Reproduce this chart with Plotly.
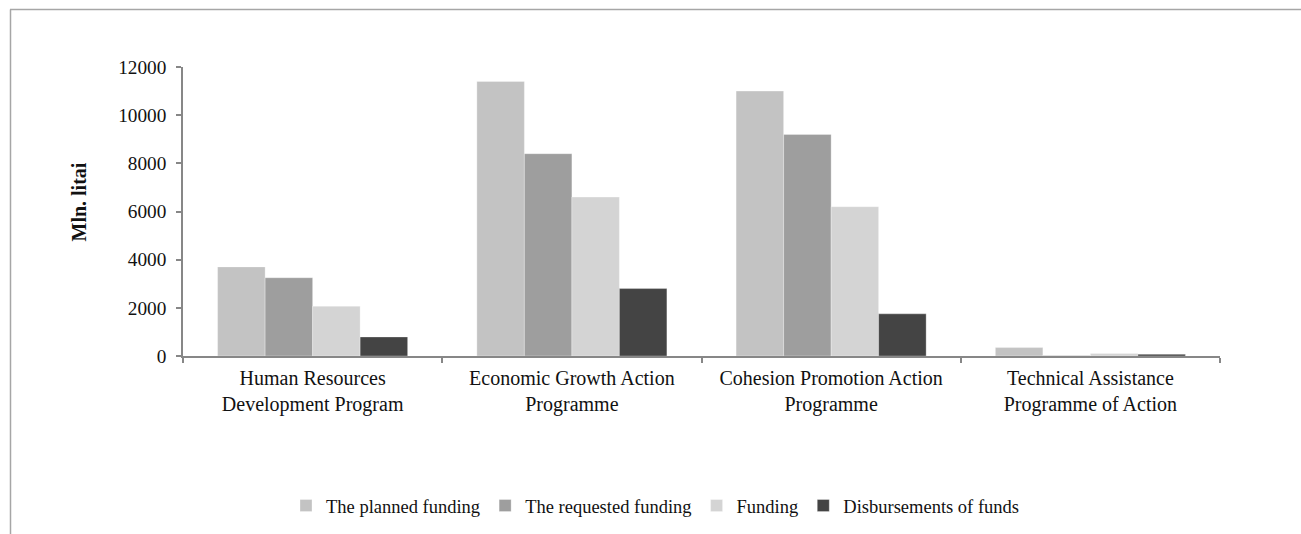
import plotly.graph_objects as go

categories = [
    "Human Resources<br>Development Program",
    "Economic Growth Action<br>Programme",
    "Cohesion Promotion Action<br>Programme",
    "Technical Assistance<br>Programme of Action",
]
series_names = ["The planned funding", "The requested funding", "Funding", "Disbursements of funds"]
planned = [3700, 11400, 11000, 350]
requested = [3250, 8400, 9200, 20]
funding = [2070, 6600, 6200, 100]
disbursements = [790, 2800, 1750, 70]
colors = ["#c3c3c3", "#9e9e9e", "#d4d4d4", "#444444"]
y_ticks = [0, 2000, 4000, 6000, 8000, 10000, 12000]
y_title = "Mln. litai"

FONT = "Liberation Serif, Times New Roman, serif"

fig = go.Figure()
for name, vals, col in zip(series_names, [planned, requested, funding, disbursements], colors):
    fig.add_trace(go.Bar(
        x=categories, y=vals, name=name,
        marker=dict(color=col, line=dict(color="rgba(255,255,255,0.6)", width=0.5)),
    ))

L, R, T, B = 183, 81, 67, 178
W, H = 1301, 534
pw, ph = W - L - R, H - T - B

def px_x(p):
    return (p - L) / pw

def px_y(p):
    return (H - B - p) / ph

fig.update_layout(
    width=W, height=H,
    margin=dict(l=L, r=R, t=T, b=B, autoexpand=False),
    barmode="group", bargap=0.267, bargroupgap=0,
    plot_bgcolor="white", paper_bgcolor="white",
    font=dict(family=FONT, color="#111111", size=19),
    showlegend=True,
    legend=dict(
        orientation="h", x=px_x(286), xanchor="left", y=px_y(487), yanchor="top",
        font=dict(family=FONT, size=18.5, color="#111111"),
        itemwidth=30, traceorder="normal",
        bgcolor="rgba(0,0,0,0)",
    ),
    xaxis=dict(
        type="category", showline=True, linecolor="#878787", linewidth=1.5,
        ticks="outside", ticklen=5, tickcolor="#878787", tickwidth=1.5,
        tickson="boundaries", showgrid=False, zeroline=False,
        ticklabelstandoff=3,
        tickfont=dict(family=FONT, size=20, color="#111111"),
    ),
    yaxis=dict(
        range=[0, 12000], tickvals=y_ticks, ticktext=[str(v) for v in y_ticks],
        showline=True, linecolor="#878787", linewidth=1.5,
        ticks="outside", ticklen=5, tickcolor="#878787", tickwidth=1.5,
        showgrid=False, zeroline=False, ticklabelstandoff=6,
        tickfont=dict(family=FONT, size=19.3, color="#111111"),
    ),
    annotations=[
        dict(text="<b>" + y_title + "</b>", xref="paper", yref="paper",
             x=px_x(78), y=px_y(202.5), xanchor="center", yanchor="middle",
             textangle=-90, showarrow=False,
             font=dict(family=FONT, size=20, color="#111111")),
    ],
    shapes=[
        dict(type="line", xref="paper", yref="paper", x0=px_x(10), x1=px_x(1305), y0=px_y(9.5), y1=px_y(9.5),
             line=dict(color="#a6a6a6", width=1.5)),
        dict(type="line", xref="paper", yref="paper", x0=px_x(10.5), x1=px_x(10.5), y0=px_y(9.5), y1=px_y(540),
             line=dict(color="#a6a6a6", width=1.5)),
    ],
)

fig.write_html("out.html")
